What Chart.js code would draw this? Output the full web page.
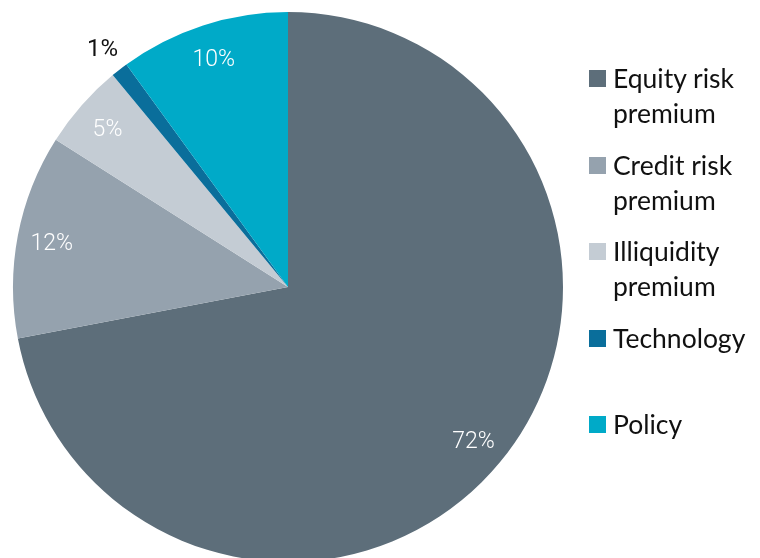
<!DOCTYPE html>
<html>
<head>
<meta charset="utf-8">
<script src="https://cdn.jsdelivr.net/npm/chart.js@4"></script>
<style>
  body { margin: 0; width: 760px; height: 558px; overflow: hidden; background: #fff; }
  #wrap { position: absolute; left: 0; top: 0; width: 760px; height: 570px; }
  #legend { position: absolute; left: 589px; top: 61px; font-family: Lato, sans-serif; font-size: 26.5px; color: #111; }
  .item { position: relative; height: 86.5px; }
  .box { position: absolute; left: 0; top: 9px; width: 17px; height: 17px; }
  .txt { position: absolute; left: 24px; top: 0; line-height: 35px; white-space: nowrap; }
</style>
</head>
<body>
<div id="wrap"><canvas id="pie"></canvas></div>
<div id="legend"></div>
<script>
let categories = [["Equity risk", "premium"], ["Credit risk", "premium"], ["Illiquidity", "premium"], ["Technology"], ["Policy"]];
let shares = [72, 12, 5, 1, 10];
let colors = ["#5d6e7a", "#95a2ae", "#c4ccd4", "#0a6e9b", "#00aac8"];

// labels: inside at 0.875 r, the tiny slice outside in black
const sliceLabels = {
	id: "sliceLabels",
	afterDatasetsDraw(chart) {
		let ctx = chart.ctx;
		let meta = chart.getDatasetMeta(0);
		ctx.save();
		ctx.textAlign = "center";
		ctx.textBaseline = "middle";
		meta.data.forEach((arc, i) => {
			let p = arc.getProps(["x", "y", "startAngle", "endAngle", "outerRadius"], true);
			let mid = (p.startAngle + p.endAngle) / 2;
			let small = shares[i] < 3;
			let r = p.outerRadius * (small ? 1.1 : 0.875);
			ctx.font = small ? "400 24px Roboto" : "300 23px Roboto";
			ctx.fillStyle = small ? "#111" : "#fff";
			ctx.fillText(shares[i] + "%", p.x + Math.cos(mid) * r, p.y + Math.sin(mid) * r + 2);
		});
		ctx.restore();
	}
};

let legendEl = document.getElementById("legend");
for (let i = 0; i < categories.length; i++) {
	let item = document.createElement("div");
	item.className = "item";
	item.innerHTML = '<div class="box" style="background:' + colors[i] + '"></div><div class="txt">' + categories[i].join("<br>") + '</div>';
	legendEl.appendChild(item);
}

var ctx = document.getElementById("pie");
var pie = new Chart(ctx, {
	type: "pie",
	data: {
		labels: categories,
		datasets: [{
			data: shares,
			backgroundColor: colors,
			borderWidth: 0
		}]
	},
	options: {
		responsive: true,
		maintainAspectRatio: false,
		animation: false,
		layout: { padding: { left: 13, top: 12, right: 197, bottom: 8 } },
		plugins: {
			legend: { display: false },
			tooltip: { enabled: false }
		}
	},
	plugins: [sliceLabels]
});
</script>
</body>
</html>
